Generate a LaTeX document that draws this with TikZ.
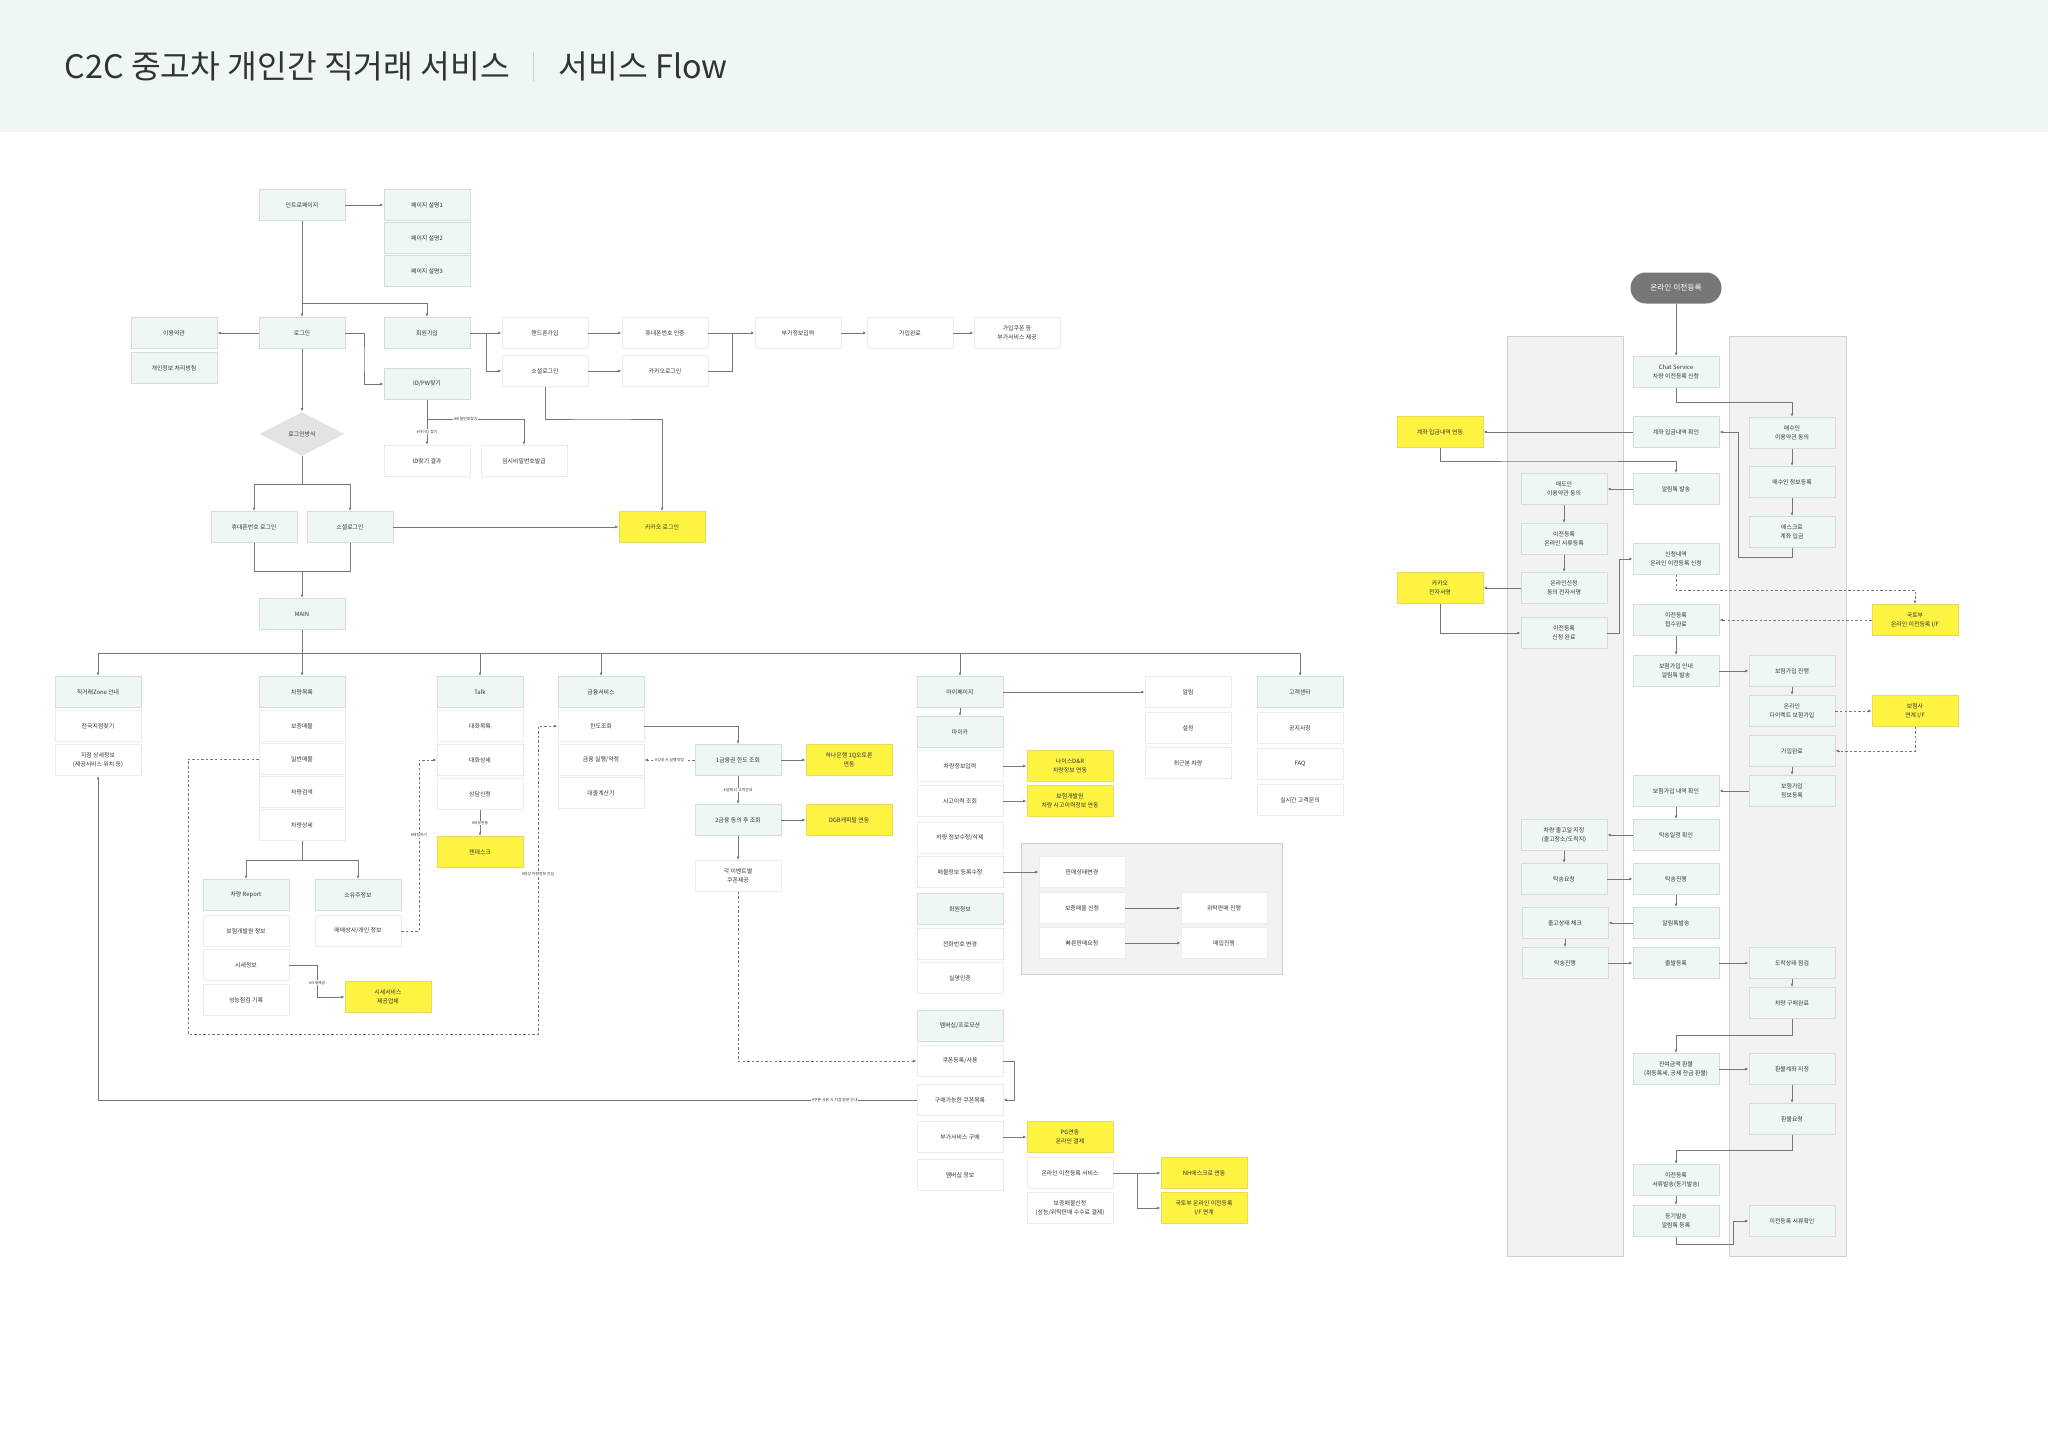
\documentclass[tikz,border=0pt]{standalone}
\usepackage{fontspec}
\setmainfont{Noto Sans CJK KR}
\usetikzlibrary{arrows.meta, shapes.geometric}

\definecolor{headmint}{HTML}{EEF7F5}
\definecolor{boxmint}{HTML}{EFF7F6}
\definecolor{edgemint}{HTML}{D3DEDB}
\definecolor{edgewhite}{HTML}{ECECEC}
\definecolor{boxyellow}{HTML}{FFF342}
\definecolor{edgeyellow}{HTML}{E6DB5A}
\definecolor{linegray}{HTML}{777777}
\definecolor{textdark}{HTML}{333333}
\definecolor{panelgray}{HTML}{F2F2F2}
\definecolor{paneledge}{HTML}{CFCFCF}
\definecolor{pillgray}{HTML}{777777}
\definecolor{diagray}{HTML}{E3E3E3}

\begin{document}
\begin{tikzpicture}%
    [x=0.5mm, y=-0.5mm, color=linegray, line width=1.2pt,
     >={Latex[length=5pt,width=4pt]},
     font=\fontsize{8.4}{12.5}\selectfont,
     box/.style={rectangle, minimum width=43mm, minimum height=15.5mm,
                 inner sep=1pt, align=center, text=textdark, line width=1.1pt},
     mbox/.style={box, fill=boxmint, draw=edgemint},
     wbox/.style={box, fill=white, draw=edgewhite},
     ybox/.style={box, fill=boxyellow, draw=edgeyellow},
     dbox/.style={diamond, aspect=2, minimum width=42.5mm, minimum height=22mm,
                  inner sep=0pt, fill=diagray, text=textdark},
     pill/.style={rectangle, rounded corners=7.7mm, minimum width=45.5mm,
                  minimum height=15.5mm, fill=pillgray, text=white,
                  font=\fontsize{11}{13}\selectfont},
     lbl/.style={fill=white, inner sep=1pt, text=textdark,
                 font=\fontsize{5.5}{6.5}\selectfont},
     dashline/.style={dash pattern=on 3.5pt off 3pt, line width=1pt},
     panel/.style={fill=panelgray, draw=paneledge, line width=1.1pt}]

    \useasboundingbox (0,0) rectangle (2048,1448);
    \fill[white] (0,0) rectangle (2048,1448);
    \fill[headmint] (0,0) rectangle (2048,132);
    \node[anchor=west, text=textdark, font=\fontsize{46}{54}\selectfont] (title) at (62,66) {C2C 중고차 개인간 직거래 서비스};
    \draw[paneledge, line width=1.2pt] (533,52) -- (533,81);
    \node[anchor=west, text=textdark, font=\fontsize{46}{54}\selectfont] (subtitle) at (556,66) {서비스 Flow};

    % panels
    \draw[panel] (1021,843) rectangle (1282,974);
    \draw[panel] (1507,336) rectangle (1623,1256);
    \draw[panel] (1729,336) rectangle (1846,1256);

    % intro / login
    \node[mbox] (intro) at (302,205) {인트로페이지};
    \node[mbox] (page1) at (427,205) {페이지 설명1};
    \node[mbox] (page2) at (427,238) {페이지 설명2};
    \node[mbox] (page3) at (427,271) {페이지 설명3};
    \node[mbox] (terms) at (174,333) {이용약관};
    \node[mbox] (privacy) at (174,368) {개인정보 처리방침};
    \node[mbox] (login) at (302,333) {로그인};
    \node[mbox] (signup) at (427,333) {회원가입};
    \node[wbox] (phonejoin) at (545,333) {핸드폰가입};
    \node[wbox] (socialjoin) at (545,371) {소셜로그인};
    \node[wbox] (phoneauth) at (665,333) {휴대폰번호 인증};
    \node[wbox] (kakaojoin) at (665,371) {카카오로그인};
    \node[wbox] (extra) at (798,333) {부가정보입력};
    \node[wbox] (joindone) at (910,333) {가입완료};
    \node[wbox] (coupongift) at (1017,333) {가입쿠폰 등\\부가서비스 제공};
    \node[mbox] (findid) at (427,384) {ID/PW찾기};
    \node[dbox] (method) at (302,434) {로그인방식};
    \node[wbox] (idresult) at (427,461) {ID찾기 결과};
    \node[wbox] (temppw) at (524,461) {임시비밀번호발급};
    \node[mbox] (phonelogin) at (254,527) {휴대폰번호 로그인};
    \node[mbox] (sociallogin) at (350,527) {소셜로그인};
    \node[ybox] (kakaologin) at (662,527) {카카오 로그인};
    \node[mbox] (main) at (302,614) {MAIN};

    % main menus
    \node[mbox] (zone) at (98,692) {직거래Zone 안내};
    \node[wbox] (branchfind) at (98,726) {전국지점찾기};
    \node[wbox] (branchinfo) at (98,760) {지점 상세정보\\(제공서비스 위치 등)};
    \node[mbox] (carlist) at (302,692) {차량목록};
    \node[wbox] (warranty) at (302,726) {보증매물};
    \node[wbox] (general) at (302,759) {일반매물};
    \node[wbox] (search) at (302,792) {차량검색};
    \node[wbox] (cardetail) at (302,825) {차량상세};
    \node[mbox] (report) at (246,895) {차량 Report};
    \node[wbox] (insinfo) at (246,931) {보험개발원 정보};
    \node[wbox] (price) at (246,965) {시세정보};
    \node[wbox] (inspect) at (246,1000) {성능점검 기록};
    \node[mbox] (owner) at (358,895) {소유주정보};
    \node[wbox] (dealer) at (358,931) {매매상사/개인 정보};
    \node[ybox] (pricesvc) at (388,997) {시세서비스\\제공업체};
    \node[mbox] (talk) at (480,692) {Talk};
    \node[wbox] (chatlist) at (480,726) {대화목록};
    \node[wbox] (chatdetail) at (480,760) {대화상세};
    \node[wbox] (consult) at (480,794) {상담신청};
    \node[ybox] (zendesk) at (480,852) {젠데스크};
    \node[mbox] (finance) at (601,692) {금융서비스};
    \node[wbox] (limit) at (601,726) {한도조회};
    \node[wbox] (finexec) at (601,760) {금융 실행/약정};
    \node[wbox] (loancalc) at (601,793) {대출계산기};
    \node[mbox] (bank1) at (738,760) {1금융권 한도 조회};
    \node[ybox] (hana) at (849,760) {하나은행 1Q오토론\\연동};
    \node[mbox] (bank2) at (738,820) {2금융 동의 후 조회};
    \node[ybox] (dgb) at (849,820) {DGB캐피탈 연동};
    \node[wbox] (event) at (738,876) {각 이벤트별\\쿠폰제공};

    % my page
    \node[mbox] (mypage) at (960,692) {마이페이지};
    \node[mbox] (mycar) at (960,732) {마이카};
    \node[wbox] (carinput) at (960,766) {차량정보입력};
    \node[wbox] (accident) at (960,801) {사고이력 조회};
    \node[wbox] (caredit) at (960,838) {차량 정보수정/삭제};
    \node[wbox] (saleedit) at (960,872) {매물정보 등록수정};
    \node[mbox] (member) at (960,909) {회원정보};
    \node[wbox] (phonechg) at (960,944) {전화번호 변경};
    \node[wbox] (realname) at (960,978) {실명인증};
    \node[mbox] (promo) at (960,1026) {멤버십/프로모션};
    \node[wbox] (coupon) at (960,1061) {쿠폰등록/사용};
    \node[wbox] (couponlist) at (960,1100) {구매가능한 쿠폰목록};
    \node[wbox] (addon) at (960,1137) {부가서비스 구매};
    \node[wbox] (membership) at (960,1175) {멤버십 정보};
    \node[ybox] (nice) at (1070,766) {나이스D\&R\\차량정보 연동};
    \node[ybox] (kidi) at (1070,801) {보험개발원\\차량 사고이력정보 연동};
    \node[ybox] (pg) at (1070,1137) {PG연동\\온라인 결제};
    \node[wbox] (onlinereg) at (1070,1173) {온라인 이전등록 서비스};
    \node[wbox] (warrantyfee) at (1070,1208) {보증매물신청\\(성능/위탁판매 수수료 결제)};
    \node[ybox] (nh) at (1204,1173) {NH에스크로 연동};
    \node[ybox] (molit) at (1204,1208) {국토부 온라인 이전등록\\I/F 연계};
    \node[wbox] (salestate) at (1082,872) {판매상태변경};
    \node[wbox] (warrantyreq) at (1082,908) {보증매물 신청};
    \node[wbox] (quicksale) at (1082,943) {빠른판매요청};
    \node[wbox] (consign) at (1224,908) {위탁판매 진행};
    \node[wbox] (purchase) at (1224,943) {매입진행};
    \node[wbox] (notice) at (1188,692) {알림};
    \node[wbox] (setting) at (1188,728) {설정};
    \node[wbox] (recent) at (1188,763) {최근본 차량};
    \node[mbox] (cs) at (1300,692) {고객센터};
    \node[wbox] (faqnotice) at (1300,728) {공지사항};
    \node[wbox] (faq) at (1300,764) {FAQ};
    \node[wbox] (livechat) at (1300,800) {실시간 고객문의};

    % online transfer
    \node[pill] (pill) at (1676,288) {온라인 이전등록};
    \node[mbox] (chatsvc) at (1676,372) {Chat Service\\차량 이전등록 신청};
    \node[mbox] (depcheck) at (1676,432) {계좌 입금내역 확인};
    \node[mbox] (talk1) at (1676,489) {알림톡 발송};
    \node[mbox] (applist) at (1676,559) {신청내역\\온라인 이전등록 신청};
    \node[mbox] (accepted) at (1676,620) {이전등록\\접수완료};
    \node[mbox] (insguide) at (1676,671) {보험가입 안내\\알림톡 발송};
    \node[mbox] (inscheck) at (1676,791) {보험가입 내역 확인};
    \node[mbox] (shipdate) at (1676,835) {탁송일정 확인};
    \node[mbox] (shipgo) at (1676,879) {탁송진행};
    \node[mbox] (talk2) at (1676,923) {알림톡발송};
    \node[mbox] (depart) at (1676,963) {출발등록};
    \node[mbox] (refund) at (1676,1069) {잔여금액 환불\\(취등록세, 공제 잔금 환불)};
    \node[mbox] (docsend) at (1676,1180) {이전등록\\서류발송(등기발송)};
    \node[mbox] (regmail) at (1676,1221) {등기발송\\알림톡 등록};
    \node[mbox] (seller) at (1564,489) {매도인\\이용약관 동의};
    \node[mbox] (docreg) at (1564,539) {이전등록\\온라인 서류등록};
    \node[mbox] (esign) at (1564,588) {온라인신청\\동의 전자서명};
    \node[mbox] (appdone) at (1564,633) {이전등록\\신청 완료};
    \node[mbox] (release) at (1564,835) {차량 출고일 지정\\(출고장소/도착지)};
    \node[mbox] (shipreq) at (1564,879) {탁송요청};
    \node[mbox] (outcheck) at (1565,923) {출고상태 체크};
    \node[mbox] (shipgo2) at (1565,963) {탁송진행};
    \node[mbox] (buyer) at (1792,433) {매수인\\이용약관 동의};
    \node[mbox] (buyerinfo) at (1792,482) {매수인 정보등록};
    \node[mbox] (escrow) at (1792,532) {에스크로\\계좌 입금};
    \node[mbox] (insgo) at (1792,671) {보험가입 진행};
    \node[mbox] (direct) at (1792,711) {온라인\\다이렉트 보험가입};
    \node[mbox] (insdone) at (1792,751) {가입완료};
    \node[mbox] (insreg) at (1792,791) {보험가입\\정보등록};
    \node[mbox] (arrival) at (1792,963) {도착상태 점검};
    \node[mbox] (bought) at (1792,1003) {차량 구매완료};
    \node[mbox] (refundacct) at (1792,1069) {환불계좌 지정};
    \node[mbox] (refundreq) at (1792,1119) {환불요청};
    \node[mbox] (doccheck) at (1792,1221) {이전등록 서류확인};
    \node[ybox] (depsync) at (1440,432) {계좌 입금내역 연동};
    \node[ybox] (kakaosign) at (1440,588) {카카오\\전자서명};
    \node[ybox] (molitif) at (1915,620) {국토부\\온라인 이전등록 I/F};
    \node[ybox] (insif) at (1915,711) {보험사\\연계 I/F};

    % junctions
    \coordinate (j1) at (302,303);
    \coordinate (j2) at (364,360);
    \coordinate (j3) at (486,333);
    \coordinate (j4) at (732,333);
    \coordinate (j5) at (427,419);
    \coordinate (j6) at (600,419);
    \coordinate (jm) at (302,484);
    \coordinate (j7) at (302,571);
    \coordinate (bus) at (302,653);
    \coordinate (jd) at (302,860);
    \coordinate (jp) at (317,965);
    \coordinate (jc1) at (419,931);
    \coordinate (jg1) at (188,1034);
    \coordinate (jg2) at (538,1034);
    \coordinate (jc) at (1014,1080);
    \coordinate (jo) at (1137,1173);
    \coordinate (r1) at (1792,402);
    \coordinate (r2) at (1738,557);
    \coordinate (r3) at (1560,461);
    \coordinate (r4) at (1619,600);
    \coordinate (r5) at (1800,590);
    \coordinate (r6) at (1740,1035);
    \coordinate (r7) at (1740,1150);
    \coordinate (r8) at (1733,1244);

    % connectors, left side
    \draw[->] (intro) -- (page1);
    \draw[->] (intro) -- (login);
    \draw[->] (j1) -| (signup.north);
    \draw[->] (login) -- (terms);
    \draw[->] (login.east) -| (j2) |- (findid.west);
    \draw[->] (signup) -- (phonejoin);
    \draw[->] (j3) |- (socialjoin.west);
    \draw[->] (phonejoin) -- (phoneauth);
    \draw[->] (socialjoin) -- (kakaojoin);
    \draw[->] (phoneauth) -- (extra);
    \draw (kakaojoin.east) -| (j4);
    \draw[->] (extra) -- (joindone);
    \draw[->] (joindone) -- (coupongift);
    \draw[->] (login) -- (method);
    \draw[->] (findid) -- (idresult) node[lbl, pos=0.7] {\#아이디 찾기};
    \draw[->] (j5) -| (temppw.north) node[lbl, pos=0.2] {\#비밀번호찾기};
    \draw[->] (socialjoin.south) |- (j6) -| (kakaologin.north);
    \draw (method.south) -- (jm);
    \draw[->] (jm) -| (phonelogin.north);
    \draw[->] (jm) -| (sociallogin.north);
    \draw[->] (sociallogin) -- (kakaologin);
    \draw (phonelogin.south) |- (j7);
    \draw (sociallogin.south) |- (j7);
    \draw[->] (j7) -- (main.north);
    \draw (main.south) -- (bus);
    \draw[->] (bus) -| (zone.north);
    \draw[->] (bus) -- (carlist.north);
    \draw[->] (bus) -| (talk.north);
    \draw[->] (bus) -| (finance.north);
    \draw[->] (bus) -| (mypage.north);
    \draw[->] (bus) -| (cs.north);
    \draw (cardetail.south) -- (jd);
    \draw[->] (jd) -| (report.north);
    \draw[->] (jd) -| (owner.north);
    \draw[->] (price.east) -- (jp) |- (pricesvc.west) node[lbl, pos=0.28] {\#시세제공};
    \draw[->] (consult) -- (zendesk) node[lbl, midway] {\#외부연동};
    \draw[dashline, ->] (dealer.east) -- (jc1) |- (chatdetail.west) node[lbl, pos=0.28] {\#채팅하기};
    \draw[dashline, ->] (general.west) -| (jg1) -| (jg2) |- (limit.west) node[lbl, pos=0.26] {\#대상 차량정보 진입};
    \draw[->] (limit.east) -| (bank1.north);
    \draw[->] (bank1) -- (hana);
    \draw[->] (bank2) -- (dgb);
    \draw[->] (bank1) -- (bank2) node[lbl, midway] {\#실패 시 고객안내};
    \draw[->] (bank2) -- (event);
    \draw[dashline, ->] (bank1) -- (finexec) node[lbl, midway] {\#성공 시 실행약정};
    \draw[dashline, ->] (event.south) |- (coupon.west);
    \draw[->] (mypage) -- (notice);
    \draw[->] (mypage) -- (mycar);
    \draw[->] (carinput) -- (nice);
    \draw[->] (accident) -- (kidi);
    \draw[->] (saleedit) -- (salestate);
    \draw[->] (warrantyreq) -- (consign);
    \draw[->] (quicksale) -- (purchase);
    \draw[->] (coupon.east) -| (jc) |- (couponlist.east);
    \draw[->] (couponlist.west) -| (branchinfo.south) node[lbl, pos=0.05] {\#쿠폰 사용 시 지점 방문 안내};
    \draw[->] (addon) -- (pg);
    \draw[->] (onlinereg) -- (nh);
    \draw[->] (jo) |- (molit.west);

    % connectors, online transfer
    \draw[->] (pill) -- (chatsvc);
    \draw[->] (chatsvc.south) |- (r1) -- (buyer.north);
    \draw[->] (buyer) -- (buyerinfo);
    \draw[->] (buyerinfo) -- (escrow);
    \draw[->] (escrow.south) |- (r2) |- (depcheck.east);
    \draw[->] (depcheck) -- (depsync);
    \draw[->] (depsync.south) |- (r3) -| (talk1.north);
    \draw[->] (talk1) -- (seller);
    \draw[->] (seller) -- (docreg);
    \draw[->] (docreg) -- (esign);
    \draw[->] (esign) -- (kakaosign);
    \draw[->] (kakaosign.south) |- (appdone.west);
    \draw[->] (appdone.east) -| (r4) |- (applist.west);
    \draw[dashline, ->] (applist.south) |- (r5) -| (molitif.north);
    \draw[dashline, ->] (molitif) -- (accepted);
    \draw[->] (accepted) -- (insguide);
    \draw[->] (insguide) -- (insgo);
    \draw[->] (insgo) -- (direct);
    \draw[dashline, ->] (direct) -- (insif);
    \draw[dashline, ->] (insif.south) |- (insdone.east);
    \draw[->] (insdone) -- (insreg);
    \draw[->] (insreg) -- (inscheck);
    \draw[->] (inscheck) -- (shipdate);
    \draw[->] (shipdate) -- (release);
    \draw[->] (release) -- (shipreq);
    \draw[->] (shipreq) -- (shipgo);
    \draw[->] (shipgo) -- (talk2);
    \draw[->] (talk2) -- (outcheck);
    \draw[->] (outcheck) -- (shipgo2);
    \draw[->] (shipgo2) -- (depart);
    \draw[->] (depart) -- (arrival);
    \draw[->] (arrival) -- (bought);
    \draw[->] (bought.south) |- (r6) -| (refund.north);
    \draw[->] (refund) -- (refundacct);
    \draw[->] (refundacct) -- (refundreq);
    \draw[->] (refundreq.south) |- (r7) -| (docsend.north);
    \draw[->] (docsend) -- (regmail);
    \draw[->] (regmail.south) |- (r8) |- (doccheck.west);
\end{tikzpicture}
\end{document}
